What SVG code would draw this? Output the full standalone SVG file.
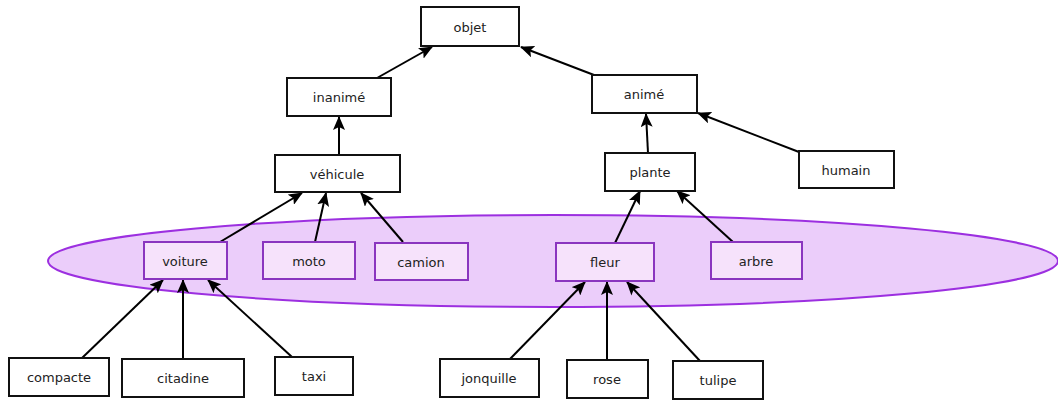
<svg xmlns="http://www.w3.org/2000/svg" width="1058" height="400" viewBox="0 0 1058 400">
<style>
.n rect{fill:#fff;stroke:#111;stroke-width:2}
.p rect{fill:#f6e2fb;stroke:#8a35bf;stroke-width:2}
text{font-family:"DejaVu Sans",sans-serif;font-size:13px;fill:#222;text-anchor:middle;dominant-baseline:central}
#connectors line{stroke:#000;stroke-width:2;marker-end:url(#ah)}
</style>
<defs>
<marker id="ah" markerUnits="userSpaceOnUse" markerWidth="14" markerHeight="12" refX="13" refY="6" orient="auto">
<path d="M0,0 L14,6 L0,12 L3,6 z" fill="#000"/>
</marker>
</defs>
<rect width="1058" height="400" fill="#fff"/>
<ellipse cx="553" cy="261" rx="505" ry="46" fill="#ebcdfa" stroke="#9c2fe0" stroke-width="2"/>
<g id="connectors">
<line x1="377" y1="78" x2="432" y2="47"/>
<line x1="594" y1="75" x2="521" y2="47"/>
<line x1="339" y1="155" x2="339" y2="117"/>
<line x1="648" y1="153" x2="646" y2="114"/>
<line x1="799" y1="152" x2="698" y2="113"/>
<line x1="220" y1="242" x2="302" y2="193"/>
<line x1="315" y1="242" x2="326" y2="193"/>
<line x1="403" y1="242" x2="361" y2="193"/>
<line x1="615" y1="243" x2="640" y2="191"/>
<line x1="733" y1="242" x2="677" y2="191"/>
<line x1="82" y1="358" x2="163" y2="280"/>
<line x1="183" y1="359" x2="183" y2="280"/>
<line x1="292" y1="357" x2="208" y2="280"/>
<line x1="510" y1="359" x2="585" y2="282"/>
<line x1="607" y1="360" x2="607" y2="282"/>
<line x1="700" y1="361" x2="627" y2="282"/>
</g>
<g id="objet" class="n"><rect x="421" y="7" width="98" height="39"/><text x="470" y="27">objet</text></g>
<g id="inanime" class="n"><rect x="287" y="78" width="104" height="38"/><text x="339" y="97">inanimé</text></g>
<g id="vehicule" class="n"><rect x="275" y="155" width="125" height="37"/><text x="337" y="174">véhicule</text></g>
<g id="anime" class="n"><rect x="592" y="75" width="105" height="38"/><text x="644" y="94">animé</text></g>
<g id="plante" class="n"><rect x="605" y="153" width="90" height="38"/><text x="650" y="172">plante</text></g>
<g id="humain" class="n"><rect x="799" y="151" width="95" height="37"/><text x="846" y="170">humain</text></g>
<g id="voiture" class="p"><rect x="144" y="242" width="83" height="37"/><text x="185" y="261">voiture</text></g>
<g id="moto" class="p"><rect x="263" y="242" width="92" height="37"/><text x="309" y="261">moto</text></g>
<g id="camion" class="p"><rect x="375" y="243" width="93" height="37"/><text x="421" y="262">camion</text></g>
<g id="fleur" class="p"><rect x="556" y="243" width="98" height="38"/><text x="605" y="262">fleur</text></g>
<g id="arbre" class="p"><rect x="711" y="242" width="91" height="37"/><text x="756" y="261">arbre</text></g>
<g id="compacte" class="n"><rect x="9" y="358" width="100" height="38"/><text x="59" y="377">compacte</text></g>
<g id="citadine" class="n"><rect x="122" y="359" width="122" height="38"/><text x="183" y="378">citadine</text></g>
<g id="taxi" class="n"><rect x="275" y="357" width="78" height="38"/><text x="314" y="376">taxi</text></g>
<g id="jonquille" class="n"><rect x="440" y="359" width="99" height="38"/><text x="489" y="378">jonquille</text></g>
<g id="rose" class="n"><rect x="567" y="360" width="81" height="38"/><text x="607" y="379">rose</text></g>
<g id="tulipe" class="n"><rect x="673" y="361" width="90" height="38"/><text x="718" y="380">tulipe</text></g>
</svg>
